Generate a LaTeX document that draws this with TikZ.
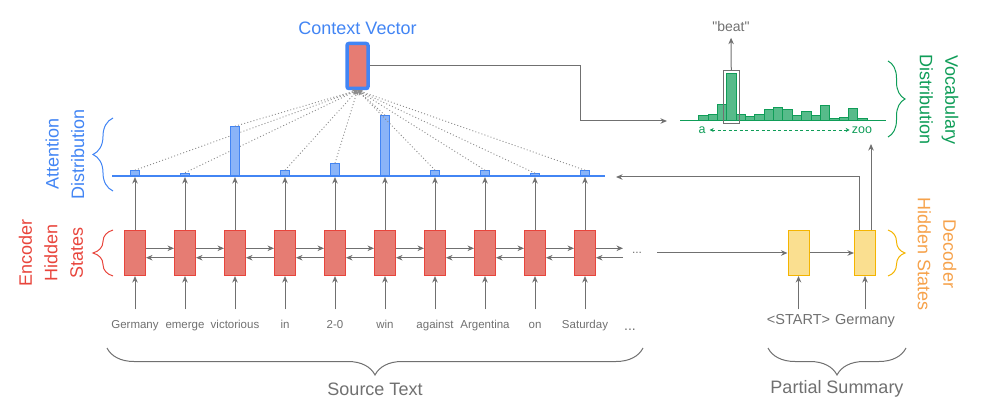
\documentclass[tikz,border=0pt]{standalone}
\usepackage{fontspec}
\setmainfont{Liberation Sans}
\usepackage{xcolor}
\usepackage{tikz}
\usetikzlibrary{arrows.meta}
\usetikzlibrary{calc}
\usetikzlibrary{positioning}
\usetikzlibrary{fit}
\usetikzlibrary{decorations.pathreplacing}

\definecolor{gblue}{HTML}{4285F4}
\definecolor{gbluefill}{HTML}{8AB4F8}
\definecolor{gred}{HTML}{E8453C}
\definecolor{gredfill}{HTML}{E67C73}
\definecolor{ggreen}{HTML}{0F9D58}
\definecolor{ggreenfill}{HTML}{57BB8A}
\definecolor{gyellow}{HTML}{F4B400}
\definecolor{gyellowfill}{HTML}{FADF90}
\definecolor{gorange}{HTML}{F6A24B}
\definecolor{ggray}{HTML}{707070}

\begin{document}
\begin{tikzpicture}[
    x=1pt, y=-1pt,
    >={Stealth[length=6.5pt,width=5.5pt]},
    conn/.style={draw=ggray, line width=1pt},
    enccell/.style={draw=gred, fill=gredfill, line width=1pt,
      minimum width=21pt, minimum height=45pt, inner sep=0pt},
    deccell/.style={draw=gyellow, fill=gyellowfill, line width=1pt,
      minimum width=21pt, minimum height=45pt, inner sep=0pt},
    attbar/.style={draw=gblue, fill=gbluefill, line width=0.8pt,
      minimum width=9pt, inner sep=0pt, anchor=south},
    vocbar/.style={draw=ggreen, fill=ggreenfill, line width=0.8pt,
      minimum width=9.35pt, inner sep=0pt, anchor=south west},
    word/.style={text=ggray, font=\fontsize{11.5}{13}\selectfont,
      text height=9pt, text depth=2.5pt, inner sep=1pt, outer ysep=9pt},
    decword/.style={text=ggray, font=\fontsize{14.5}{16}\selectfont,
      text height=10.5pt, text depth=3pt, inner sep=1pt, outer ysep=4pt},
    biglabel/.style={font=\fontsize{18}{25.5}\selectfont, align=center},
    brc/.style={decorate, decoration={brace, amplitude=#1}, line width=1pt},
  ]
  \useasboundingbox (0,0) rectangle (991,406);

  % encoder
  \foreach \w [count=\i] in {Germany, emerge, victorious, in, 2-0, win,
      against, Argentina, on, Saturday} {
    \node[enccell] (e\i) at ({85+50*\i}, 253) {};
    \node[word] (w\i) at ({85+50*\i}, 325) {\w};
    \draw[conn, ->] (w\i) -- (e\i);
  }
  \foreach \i [evaluate=\i as \j using int(\i+1)] in {1,...,9} {
    \draw[conn, ->] ([yshift=4.7pt]e\i.east) -- ([yshift=4.7pt]e\j.west);
    \draw[conn, ->] ([yshift=-4.7pt]e\j.west) -- ([yshift=-4.7pt]e\i.east);
  }
  \coordinate (fwdend) at (623, 248.3);
  \coordinate (bwdstart) at (623, 257.7);
  \draw[conn, ->] ([yshift=4.7pt]e10.east) -- (fwdend);
  \draw[conn, ->] (bwdstart) -- ([yshift=-4.7pt]e10.east);
  \node[text=ggray, anchor=base, font=\fontsize{12}{14}\selectfont] (edots) at (637, 254) {...};
  \node[text=ggray, anchor=base, font=\fontsize{14}{16}\selectfont] (wdots) at (630, 330) {...};

  % attention
  \draw[gblue, line width=1.2pt] (112, 176) -- (605, 176);
  \node[draw=gblue, fill=gredfill, line width=3.5pt, rounded corners=2pt,
    minimum width=21pt, minimum height=45pt, inner sep=0pt] (c) at (357.5, 66) {};
  \node[biglabel, text=gblue, above=4pt of c] (ctitle) {Context Vector};
  \foreach \h [count=\i] in {5, 2.5, 49, 5, 12, 60, 5, 5, 2, 5} {
    \node[attbar, minimum height=\h pt] (a\i) at ({85+50*\i}, 176) {};
    \draw[conn, ->, shorten >=1pt] (e\i) -- (a\i.south);
    \draw[ggray!80, line width=0.9pt, dash pattern=on 1pt off 2.2pt,
      -{Stealth[length=5pt,width=4.5pt]}] (a\i.north) -- (c.south);
  }

  % vocabulary distribution
  \draw[ggreen, line width=1pt] (680, 121) -- (886, 121);
  \foreach \h [count=\i] in {4.7, 5.7, 15.7, 46.7, 6.3, 4.3, 6.3, 11.3, 13.3,
      11.3, 4.7, 8.7, 4.7, 15.3, 2.3, 3, 12, 2.3} {
    \node[vocbar, minimum height=\h pt] (v\i) at ({698.3+9.35*(\i-1)}, 121) {};
  }
  \node[draw=ggray, line width=1pt, fit=(v4), inner xsep=2.5pt, inner ysep=3pt] (pick) {};
  \node[decword, font=\fontsize{14}{16}\selectfont, outer ysep=2pt] (beat) at (731, 28)
    {\textquotedbl beat\textquotedbl};
  \draw[conn, ->] (pick) -- (beat);
  \node[text=ggreen, font=\fontsize{12.5}{14}\selectfont, inner xsep=4pt] (va) at (702, 130) {a};
  \node[text=ggreen, font=\fontsize{12.5}{14}\selectfont, inner xsep=2pt] (vz) at (862, 130) {zoo};
  \draw[ggreen, line width=0.9pt, dash pattern=on 3pt off 2.5pt,
    {Stealth[length=4pt,width=4pt]}-{Stealth[length=4pt,width=4pt]}] (va) -- (vz);
  \coordinate (vin) at (667, 121);
  \draw[conn, ->] (c.east) -- ++(211, 0) |- (vin);

  % decoder
  \node[deccell] (d1) at (798.5, 253) {};
  \node[deccell] (d2) at (865, 253) {};
  \node[decword] (s1) at (798.5, 321) {<START>};
  \node[decword] (s2) at (865, 321) {Germany};
  \draw[conn, ->] (s1) -- (d1);
  \draw[conn, ->] (s2) -- (d2);
  \coordinate (dstart) at (657, 253);
  \draw[conn, ->] (dstart) -- (d1);
  \draw[conn, ->] (d1) -- (d2);
  \coordinate (attin) at (616, 177);
  \coordinate (vout) at (871, 144);
  \draw[conn, ->] ([xshift=-6pt]d2.north) |- (attin);
  \draw[conn, ->] ([xshift=6pt]d2.north) -- (vout);

  % braces and labels
  \draw[brc=20pt, gblue] (113, 191) -- (113, 118);
  \draw[brc=20pt, gred] (113, 276) -- (113, 230);
  \draw[brc=17pt, ggreen] (888, 61) -- (888, 137);
  \draw[brc=17pt, gyellow] (888, 230) -- (888, 276);
  \draw[brc=27pt, ggray] (643, 348) -- (107, 348);
  \draw[brc=27pt, ggray] (906, 348) -- (768, 348);
  \node[biglabel, text=gblue, rotate=90] (attlabel) at (65, 154) {Attention\\Distribution};
  \node[biglabel, text=gred, rotate=90] (enclabel) at (51, 253) {Encoder\\Hidden\\States};
  \node[biglabel, text=ggreen, rotate=-90] (voclabel) at (939, 100) {Vocabulary\\Distribution};
  \node[biglabel, text=gorange, rotate=-90] (declabel) at (937, 254) {Decoder\\Hidden States};
  \node[biglabel, text=ggray] (srclabel) at (375, 389) {Source Text};
  \node[biglabel, text=ggray] (sumlabel) at (837, 389) {Partial Summary};
\end{tikzpicture}
\end{document}
